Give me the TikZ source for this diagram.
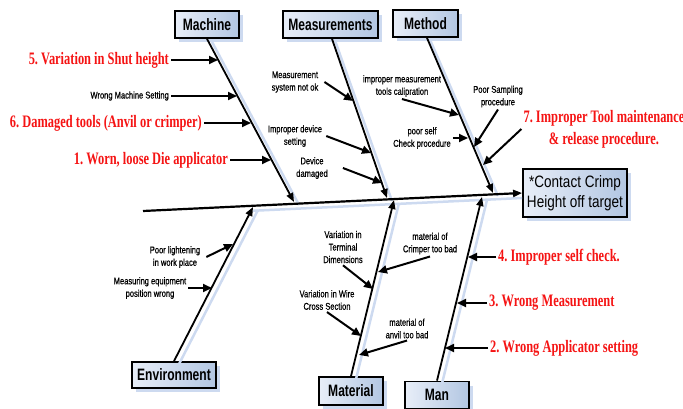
\documentclass[tikz,border=0pt]{standalone}
\usepackage{fontspec}
\usepackage{tikz}
\usetikzlibrary{arrows.meta,positioning,calc,shadows}
\newfontfamily\sansnar[FakeStretch=0.77,FakeBold=0.6]{Liberation Sans}
\newfontfamily\sanscat[FakeStretch=0.73]{Liberation Sans}
\newfontfamily\sanseff[FakeStretch=0.82]{Liberation Sans}
\newfontfamily\serifnar[FakeStretch=0.71]{Liberation Serif}
\frenchspacing
\definecolor{ink}{RGB}{0,0,0}
\definecolor{causered}{RGB}{245,20,20}
\definecolor{shblue}{RGB}{205,218,240}
\definecolor{boxl}{RGB}{232,238,248}
\definecolor{boxr}{RGB}{178,198,226}
\tikzset{
  cat/.style={draw=ink,line width=1.8pt,left color=boxl,right color=boxr,
    drop shadow={shadow xshift=4pt,shadow yshift=-4pt,fill=shblue,opacity=1},
    inner sep=0pt,minimum height=27pt,font=\sanscat\bfseries\fontsize{16.5}{19}\selectfont},
  eff/.style={cat,minimum width=104pt,minimum height=48pt,align=center,
    font=\sanseff\fontsize{16.5}{20}\selectfont},
  lbl/.style={inner sep=2pt,align=center,font=\sansnar\fontsize{9.8}{12.5}\selectfont},
  redlbl/.style={inner sep=2pt,text=causered,font=\serifnar\bfseries\fontsize{17.5}{22}\selectfont},
  bone/.style={-{Triangle[length=9pt,width=7pt]},line width=1.8pt,ink},
  sub/.style={-{Triangle[length=9pt,width=8pt]},line width=2pt,ink},
  shline/.style={shblue,line width=2.5pt},
}

\begin{document}
\begin{tikzpicture}[x=1pt,y=-1pt]
  \useasboundingbox (0,0) rectangle (683,409);
  % effect and category boxes
  \node[eff] (eff) at (575,193) {*Contact Crimp\\Height off target};
  \node[cat,minimum width=64pt] (mach) at (207,24.5) {Machine};
  \node[cat,minimum width=95pt] (meas) at (330.5,24.5) {Measurements};
  \node[cat,minimum width=65pt] (meth) at (425.5,23.5) {Method};
  \node[cat,minimum width=84pt,minimum height=26pt] (env) at (174,375) {Environment};
  \node[cat,minimum width=64pt,minimum height=28pt] (mat) at (351,391) {Material};
  \node[cat,minimum width=64pt] (man) at (437,395) {Man};

  % spine and bone ends
  \coordinate (tail) at (143,211);
  \coordinate (machE) at (294,202);
  \coordinate (measE) at (387,198);
  \coordinate (methE) at (493,193);
  \coordinate (envE) at (253,207);
  \coordinate (matE) at (394,200);
  \coordinate (manE) at (482,197);

  % light shadows under the lines
  \draw[shline] ([shift={(0,5)}]$(tail)!0.29!(eff.west)$) -- ([shift={(0,5)}]eff.west);
  \foreach \a/\b in {mach.south/machE,meas.south/measE,meth.south/methE,
                     env.north/envE,mat.north/matE,man.north/manE}
    \draw[shline] ([shift={(5,3)}]\a) -- ([shift={(5,3)}]\b);

  \draw[bone,line width=2.2pt] (tail) -- (eff.west);
  \draw[bone] (mach.south) -- (machE);
  \draw[bone] ([xshift=1.5pt]meas.south) -- (measE);
  \draw[bone] ([xshift=1.5pt]meth.south) -- (methE);
  \draw[bone] (env.north) -- (envE);
  \draw[bone] (mat.north) -- (matE);
  \draw[bone] (man.north) -- (manE);

  % Machine
  \node[redlbl,anchor=east] (c5) at (171,60) {5. Variation in Shut height};
  \node[lbl,anchor=east] (wms) at (171,96) {Wrong Machine Setting};
  \node[redlbl,anchor=east] (c6) at (204,123) {6. Damaged tools (Anvil or crimper)};
  \node[redlbl,anchor=east] (c1) at (230,160) {1. Worn, loose Die applicator};
  \coordinate (c5t) at (218,60);
  \coordinate (wmst) at (237,96);
  \coordinate (c6t) at (251,123);
  \coordinate (c1t) at (271,160);

  % Measurements
  \node[lbl] (mso) at (295,82) {Measurement\\system not ok};
  \node[lbl] (ids) at (295,136) {Improper device\\setting};
  \node[lbl] (dd) at (312,168) {Device\\damaged};
  \coordinate (msot) at (353,101);
  \coordinate (idst) at (371,153);
  \coordinate (ddt) at (382,183);

  % Method
  \node[lbl] (imc) at (402,86) {improper measurement\\tools calipration};
  \node[lbl] (psp) at (498,96.5) {Poor Sampling\\procedure};
  \node[lbl] (psc) at (422,138) {poor self\\Check procedure};
  \node[redlbl,align=center] (c7) at (604,129)
    {7. Improper Tool maintenance\\\& release procedure.};
  \coordinate (imct) at (459,115);
  \coordinate (pspt) at (474,147);
  \coordinate (psct) at (468,138);
  \coordinate (c7t) at (483,165);

  % Environment
  \node[lbl] (plw) at (175,257) {Poor lightening\\in work place};
  \node[lbl] (mep) at (150,288) {Measuring equipment\\position wrong};
  \coordinate (plwt) at (233,244);
  \coordinate (mept) at (212,288);

  % Material
  \node[lbl] (vtd) at (343,247) {Variation in\\Terminal\\Dimensions};
  \node[lbl] (vwc) at (327,300) {Variation in Wire\\Cross Section};
  \node[lbl] (mcb) at (430,243.5) {material of\\Crimper too bad};
  \node[lbl] (mab) at (407,328.5) {material of\\anvil too bad};
  \coordinate (vtdt) at (373,289);
  \coordinate (vwct) at (361,336);
  \coordinate (mcbt) at (378,272);
  \coordinate (mabt) at (359,355);

  % Man
  \node[redlbl,anchor=west] (c4) at (496,257) {4. Improper self check.};
  \node[redlbl,anchor=west] (c3) at (487,303) {3. Wrong Measurement};
  \node[redlbl,anchor=west] (c2) at (488,348) {2. Wrong Applicator setting};
  \coordinate (c4t) at (468,257);
  \coordinate (c3t) at (457,303);
  \coordinate (c2t) at (445,348);

  % cause arrows
  \draw[sub] (c5.east) -- (c5t);
  \draw[sub] (wms.east) -- (wmst);
  \draw[sub] (c6.east) -- (c6t);
  \draw[sub] (c1.east) -- (c1t);
  \draw[sub] ([xshift=4pt]mso.east) -- (msot);
  \draw[sub] ([xshift=2pt]ids.east) -- (idst);
  \draw[sub] ([xshift=13pt]dd.east) -- (ddt);
  \draw[sub] (imc.south) -- (imct);
  \draw[sub] (psp.south) -- (pspt);
  \draw[sub] (psc.east) -- (psct);
  \draw[sub] (c7.west) -- (c7t);
  \draw[sub] ([xshift=4pt]plw.east) -- (plwt);
  \draw[sub] (mep.east) -- (mept);
  \draw[sub] (vtd.south) -- (vtdt);
  \draw[sub] (vwc.south) -- (vwct);
  \draw[sub] (mcb.south) -- (mcbt);
  \draw[sub] (mab.south) -- (mabt);
  \draw[sub] (c4.west) -- (c4t);
  \draw[sub] (c3.west) -- (c3t);
  \draw[sub] (c2.west) -- (c2t);
\end{tikzpicture}
\end{document}
